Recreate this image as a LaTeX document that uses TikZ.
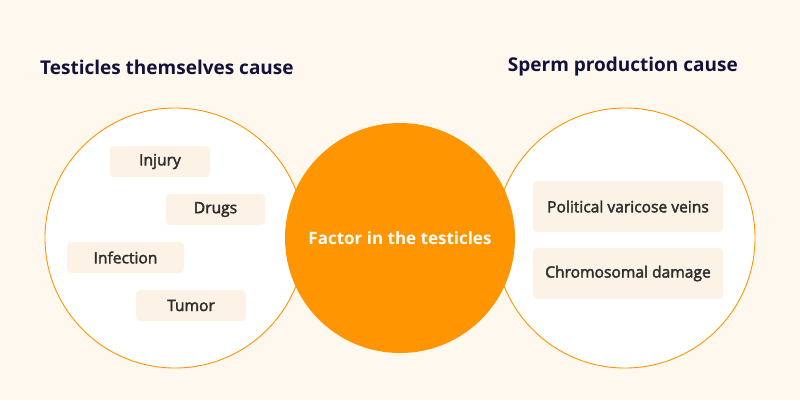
\documentclass[tikz,border=0pt]{standalone}
\usepackage{fontspec}
\setmainfont{Open Sans}
\newfontfamily\mediumfont{Open Sans}[FakeBold=2.4]
\usepackage{xcolor}
\usetikzlibrary{positioning}
\definecolor{bgcream}{HTML}{FEF8EF}
\definecolor{boxcream}{HTML}{FDF2E6}
\definecolor{mainorange}{HTML}{FF9500}
\definecolor{titleink}{HTML}{12123A}
\definecolor{textink}{HTML}{2E2E2E}
\tikzset{
  causebox/.style={fill=boxcream, rounded corners=4pt, minimum height=31pt,
    inner sep=0pt, text=textink, font=\mediumfont\fontsize{15.6}{18}\selectfont},
  sidecircle/.style={draw=mainorange, line width=0.9pt, fill=white, circle,
    minimum size=260pt, inner sep=0pt},
  heading/.style={text=titleink, font=\fontsize{19}{22}\bfseries\selectfont, inner sep=0pt}
}
\begin{document}
\begin{tikzpicture}[x=1pt, y=-1pt]
	\fill[bgcream] (0,0) rectangle (800,400);
	\useasboundingbox (0,0) rectangle (800,400);
	% the three circles
	\node[sidecircle] (leftc) at (175,238) {};
	\node[sidecircle] (rightc) at (625,238) {};
	\node[circle, fill=mainorange, minimum size=230pt, inner sep=0pt,
		text=white, font=\fontsize{17}{20}\bfseries\selectfont] (factor) at (400,238) {Factor in the testicles};
	% headings
	\node[heading, anchor=west] (lefth) at (40,67) {Testicles themselves cause};
	\node[heading, anchor=east] (righth) at (738,67) {Sperm production cause};
	% left circle causes
	\node[causebox, minimum width=100pt] (injury) at (160,161.5) {Injury};
	\node[causebox, minimum width=99pt] (drugs) at (215.5,209.5) {Drugs};
	\node[causebox, minimum width=117pt] (infection) at (125.5,257.5) {Infection};
	\node[causebox, minimum width=110pt] (tumor) at (191,305.5) {Tumor};
	% right circle causes
	\node[causebox, minimum width=190pt, minimum height=51pt] (veins) at (628,206.5) {Political varicose veins};
	\node[causebox, minimum width=190pt, minimum height=51pt] (chromo) at (628,273.5) {Chromosomal damage};
\end{tikzpicture}
\end{document}
